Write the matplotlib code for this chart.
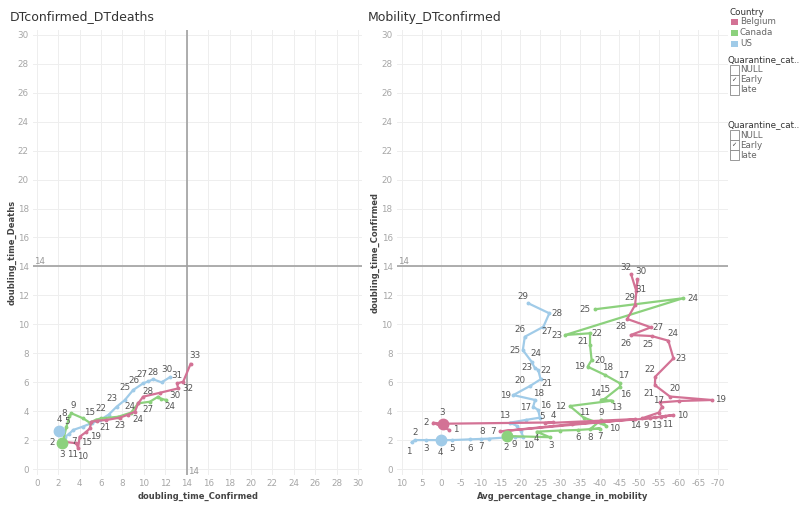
import matplotlib
matplotlib.use('Agg')
import matplotlib.pyplot as plt
from matplotlib.patches import Rectangle

plt.rcParams['font.family'] = ['DejaVu Sans']
plt.rcParams['axes.unicode_minus'] = False

# Country colours (Tableau 20)
BE_COLOR = '#d37295'
CA_COLOR = '#8cd17d'
US_COLOR = '#a0cbe8'

# ---- DTconfirmed_DTdeaths : x = doubling_time_Confirmed, y = doubling_time_Deaths
be_l_x = [2.6, 3.7, 3.86, 4.0, 4.64, 4.95, 5.1, 5.6, 6.5, 7.76, 8.5, 9.16, 9.47, 9.93, 11.5, 13.2, 13.1, 13.67, 14.36]
be_l_y = [1.88, 1.78, 1.43, 2.23, 2.58, 2.81, 3.27, 3.33, 3.39, 3.55, 3.75, 3.96, 4.54, 5.0, 5.27, 5.57, 5.92, 6.03, 7.26]
be_l_lab = ['7', '11', '10', '15', '', '19', '', '21', '', '23', '', '24', '', '28', '', '30', '31', '32', '33']

ca_l_x = [2.35, 2.4, 2.77, 3.05, 3.24, 4.33, 4.95, 5.5, 6.0, 7.6, 8.8, 9.47, 10.56, 11.34, 11.6, 12.1]
ca_l_y = [1.82, 1.78, 2.93, 3.65, 3.85, 3.5, 3.2, 3.4, 3.5, 3.61, 3.9, 4.54, 4.65, 5.0, 4.85, 4.77]
ca_l_lab = ['2', '3', '5', '8', '9', '15', '', '', '22', '', '', '27', '', '', '', '24']

us_l_x = [2.08, 2.6, 3.0, 3.4, 4.3, 5.2, 5.9, 6.7, 7.45, 8.2, 9.0, 9.93, 10.4, 10.87, 11.65, 12.43]
us_l_y = [2.65, 2.2, 2.42, 2.7, 2.93, 3.2, 3.39, 3.75, 4.3, 4.75, 5.46, 5.92, 6.05, 6.2, 5.99, 6.34]
us_l_lab = ['4', '', '', '', '', '', '', '', '23', '24', '25', '26', '27', '28', '', '30']

# ---- Mobility_DTconfirmed : x = Avg_percentage_change_in_mobility, y = doubling_time_Confirmed
be_r_x = [-2.0, 2.1, -0.3, -28.2, -26.2, -49.0, -14.8, -33.0, -52.8, -58.7, -56.6, -55.5, -54.0, -50.7,
          -55.0, -55.8, -55.3, -60.0, -68.4, -57.8, -54.0, -54.1, -58.7, -57.4, -53.2, -47.9, -53.0, -47.0,
          -49.0, -49.6, -49.3, -48.0]
be_r_y = [2.7, 3.2, 3.13, 3.22, 3.17, 3.45, 2.6, 3.1, 3.5, 3.73, 3.66, 3.62, 3.57, 3.5,
          3.9, 4.3, 4.6, 4.7, 4.77, 5.01, 5.8, 6.38, 7.65, 8.87, 9.19, 9.26, 9.79, 10.37,
          11.33, 13.1, 12.3, 13.45]
be_r_lab = ['1', '2', '3', '4', '5', '', '7', '', '9', '10', '11', '', '13', '14',
            '', '', '17', '', '19', '20', '21', '22', '23', '24', '25', '26', '27', '28',
            '29', '30', '31', '32']

ca_r_x = [-16.5, -27.4, -24.1, -30.0, -34.6, -40.1, -37.6, -40.4, -41.6, -36.0, -32.5, -43.1,
          -40.5, -41.3, -45.2, -45.2, -41.4, -37.0, -38.0, -37.6, -37.6, -31.3, -61.1, -38.9]
ca_r_y = [2.28, 2.2, 2.58, 2.66, 2.7, 2.8, 2.75, 3.39, 3.0, 3.55, 4.35, 4.72,
          4.78, 4.85, 5.69, 5.92, 6.5, 7.07, 7.53, 8.57, 9.38, 9.26, 11.8, 11.04]
ca_r_lab = ['2', '3', '4', '', '6', '7', '8', '9', '10', '11', '12', '13',
            '14', '15', '16', '17', '18', '19', '20', '21', '22', '23', '24', '25']

us_r_x = [7.5, 6.7, 3.8, 0.2, -2.6, -7.2, -10.0, -12.0, -18.5, -20.7, -20.2, -19.0, -17.3, -21.5, -24.9,
          -24.5, -23.2, -23.7, -18.2, -22.5, -25.1, -24.5, -23.6, -22.8, -20.6, -21.1, -25.8, -27.3, -22.0]
us_r_y = [1.84, 2.0, 2.0, 2.0, 2.0, 2.05, 2.08, 2.1, 2.22, 2.2, 2.6, 3.0, 3.2, 3.4, 3.55,
          4.08, 4.3, 4.77, 5.11, 5.75, 6.2, 6.84, 7.0, 7.42, 8.22, 9.14, 9.83, 10.76, 11.45]
us_r_lab = ['1', '2', '3', '4', '5', '6', '7', '8', '9', '10', '', '', '13', '', '',
            '16', '17', '18', '19', '20', '21', '22', '23', '24', '25', '26', '27', '28', '29']

# index of the highlighted (big dot) point in each series, None = no dot
dot_idx = {'be_l': None, 'ca_l': 1, 'us_l': 0, 'be_r': 2, 'ca_r': 0, 'us_r': 3}

# label placement (pixels, x right / y down) per series
off_be_l = {'7': (9, 0), '11': (-4, 11), '10': (4, 8), '15': (7, 6), '19': (6, 8), '21': (8, 7),
            '23': (0, 8), '24': (3, 8), '28': (5, -5), '30': (-3, 7), '31': (0, -8), '32': (5, 7), '33': (4, -8)}
off_ca_l = {'2': (-10, 0), '3': (0, 11), '5': (1, -5), '8': (-5, -3), '9': (2, -8), '15': (6, -6),
            '22': (0, -10), '27': (10, 6), '24': (4, 7)}
off_us_l = {'4': (0, -11), '23': (-5, -8), '24': (5, 6), '25': (-8, -3), '26': (-9, -3), '27': (-6, -7),
            '28': (0, -7), '30': (-3, -8)}
off_be_r = {'1': (6, 0), '2': (-7, 0), '3': (0, -11), '4': (1, -7), '5': (-3, -7), '7': (-7, 0),
            '9': (-4, 7), '10': (9, 0), '11': (2, 8), '13': (2, 8), '14': (-6, 7), '17': (-1, -2),
            '19': (9, 0), '20': (5, -8), '21': (-6, 8), '22': (-5, -7), '23': (8, 0), '24': (5, -7),
            '25': (-4, 8), '26': (-5, 8), '27': (7, 0), '28': (-6, 8), '29': (-5, -8), '30': (3, -8),
            '31': (5, -2), '32': (-5, -7)}
off_ca_r = {'2': (0, 11), '3': (1, 8), '4': (0, 7), '6': (0, 8), '7': (0, 8), '8': (0, 8), '9': (0, -7),
            '10': (9, 3), '11': (1, -5), '12': (-9, 0), '13': (5, 7), '14': (-6, -6), '15': (0, -9),
            '16': (5, 8), '17': (4, -8), '18': (3, -7), '19': (-8, 0), '20': (8, 0), '21': (-7, -4),
            '22': (7, 0), '23': (-8, 0), '24': (10, 0), '25': (-10, 0)}
off_us_r = {'1': (-3, 9), '2': (0, -8), '3': (0, 8), '4': (0, 12), '5': (0, 8), '6': (0, 9), '7': (0, 8),
            '8': (-7, -7), '9': (0, 8), '10': (5, 8), '13': (-5, -7), '16': (7, -4), '17': (-8, 1),
            '18': (4, -6), '19': (-8, 0), '20': (-10, -5), '21': (6, 4), '22': (8, 0), '23': (-8, 0),
            '24': (4, -8), '25': (-8, 0), '26': (-5, -7), '27': (4, 5), '28': (8, 0), '29': (-5, -7)}

TXT = '#555555'
TICK = '#a6a6a6'
GRID = '#eeeeee'
REF = '#a0a0a0'


def draw_series(ax, x, y, labels, offs, color, dot):
    ax.plot(x, y, '-', color=color, lw=1.6, marker='o', ms=1.8, zorder=3, solid_joinstyle='round')
    if dot is not None:
        ax.plot(x[dot], y[dot], 'o', color=color, ms=7.5, zorder=4)
    for xi, yi, lab in zip(x, y, labels):
        if lab == '':
            continue
        dx, dy = offs.get(lab, (0, -8))
        ax.annotate(lab, (xi, yi), xytext=(dx, -dy), textcoords='offset pixels',
                    ha='center', va='center', fontsize=6.3, color=TXT, zorder=5)


def style_axes(ax):
    for s in ax.spines.values():
        s.set_visible(False)
    ax.tick_params(length=0, labelsize=6.3, labelcolor=TICK, pad=3)
    ax.grid(True, color=GRID, lw=0.7)
    ax.set_axisbelow(True)


fig = plt.figure(figsize=(8, 5.11), dpi=100)

# ---------- left view
ax1 = fig.add_axes([0.0413, 0.0708, 0.4116, 0.8709])
style_axes(ax1)
ax1.set_xlim(-0.35, 30.4)
ax1.set_ylim(-0.4, 30.35)
ax1.set_xticks(range(0, 31, 2))
ax1.set_yticks(range(0, 31, 2))
ax1.axvline(14, color=REF, lw=1.2, zorder=2)
ax1.axhline(14, color=REF, lw=1.2, zorder=2)
ax1.annotate('14', (14, 0), xytext=(7, -2), textcoords='offset pixels', ha='center', va='center',
             fontsize=6.3, color='#999999')
ax1.annotate('14', (0, 14), xytext=(3, 5), textcoords='offset pixels', ha='center', va='center',
             fontsize=6.3, color='#999999')
draw_series(ax1, us_l_x, us_l_y, us_l_lab, off_us_l, US_COLOR, dot_idx['us_l'])
draw_series(ax1, ca_l_x, ca_l_y, ca_l_lab, off_ca_l, CA_COLOR, dot_idx['ca_l'])
draw_series(ax1, be_l_x, be_l_y, be_l_lab, off_be_l, BE_COLOR, dot_idx['be_l'])
ax1.set_xlabel('doubling_time_Confirmed', fontsize=6, color='#444444', fontweight='bold', labelpad=3)
ax1.set_ylabel('doubling_time_Deaths', fontsize=6, color='#444444', fontweight='bold', labelpad=1)

# ---------- right view
ax2 = fig.add_axes([0.4959, 0.0708, 0.4141, 0.8709])
style_axes(ax2)
ax2.set_xlim(11.3, -72.5)
ax2.set_ylim(-0.4, 30.35)
ax2.set_xticks(range(10, -71, -5))
ax2.set_yticks(range(0, 31, 2))
ax2.axhline(14, color=REF, lw=1.2, zorder=2)
ax2.annotate('14', (11.3, 14), xytext=(7, 5), textcoords='offset pixels', ha='center', va='center',
             fontsize=6.3, color='#999999')
draw_series(ax2, us_r_x, us_r_y, us_r_lab, off_us_r, US_COLOR, dot_idx['us_r'])
draw_series(ax2, ca_r_x, ca_r_y, ca_r_lab, off_ca_r, CA_COLOR, dot_idx['ca_r'])
draw_series(ax2, be_r_x, be_r_y, be_r_lab, off_be_r, BE_COLOR, dot_idx['be_r'])
ax2.set_xlabel('Avg_percentage_change_in_mobility', fontsize=6, color='#444444', fontweight='bold', labelpad=3)
ax2.set_ylabel('doubling_time_Confirmed', fontsize=6, color='#444444', fontweight='bold', labelpad=1)

# titles
fig.text(10 / 800, 1 - 17 / 511, 'DTconfirmed_DTdeaths', fontsize=9, color='#333333', va='center')
fig.text(368 / 800, 1 - 17 / 511, 'Mobility_DTconfirmed', fontsize=9, color='#333333', va='center')


# ---------- legend / filter cards
def fx(px):
    return px / 800


def fy(py):
    return 1 - py / 511


countries = ['Belgium', 'Canada', 'US']
country_colors = [BE_COLOR, CA_COLOR, US_COLOR]
quarantine = ['NULL', 'Early', 'late']
checked = [False, True, False]

fig.text(fx(729), fy(12.5), 'Country', fontsize=6.3, color='#333333', va='center')
for i, (name, col) in enumerate(zip(countries, country_colors)):
    yc = 22 + i * 10.8
    fig.add_artist(Rectangle((fx(731), fy(yc + 3)), 6.5 / 800, 6 / 511, transform=fig.transFigure,
                             facecolor=col, edgecolor='none'))
    fig.text(fx(740), fy(yc), name, fontsize=6.3, color='#666666', va='center')

for top in (60, 125):
    fig.text(fx(728), fy(top), 'Quarantine_cat..', fontsize=6.3, color='#333333', va='center')
    for i, (q, chk) in enumerate(zip(quarantine, checked)):
        y0 = top + 5 + i * 10
        fig.add_artist(Rectangle((fx(729.5), fy(y0 + 10)), 9.5 / 800, 10 / 511, transform=fig.transFigure,
                                 facecolor='white', edgecolor='#888888', lw=0.6))
        if chk:
            fig.text(fx(734), fy(y0 + 5), '\u2713', fontsize=4.5, color='#333333', ha='center', va='center')
        fig.text(fx(740.5), fy(y0 + 5), q, fontsize=6.3, color='#666666', va='center')

fig.savefig('out.png', dpi=100)
